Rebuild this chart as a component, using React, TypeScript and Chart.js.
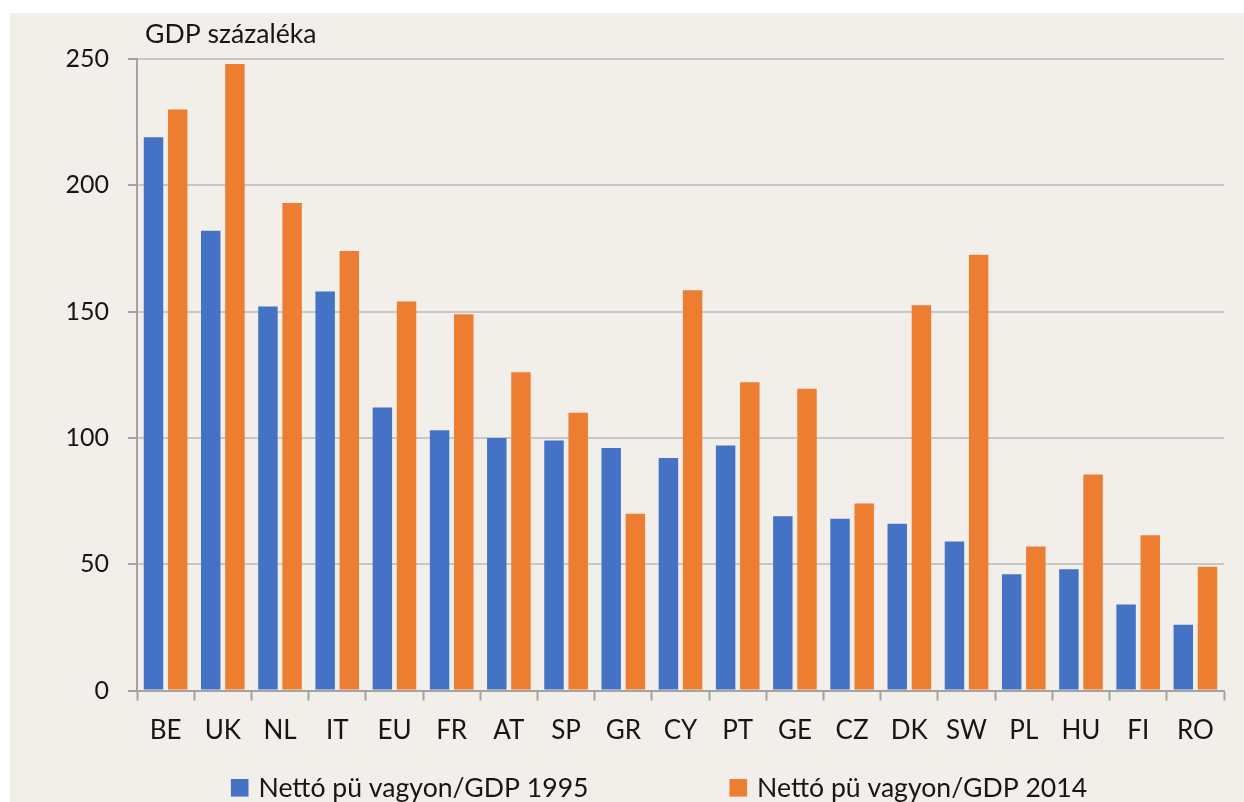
import { useEffect, useRef } from "react";
import { Chart, registerables } from "chart.js";

Chart.register(...registerables);

const categories = ["BE", "UK", "NL", "IT", "EU", "FR", "AT", "SP", "GR", "CY", "PT", "GE", "CZ", "DK", "SW", "PL", "HU", "FI", "RO"];
const values1995 = [219, 182, 152, 158, 112, 103, 100, 99, 96, 92, 97, 69, 68, 66, 59, 46, 48, 34, 26];
const values2014 = [230, 248, 193, 174, 154, 149, 126, 110, 70, 158.5, 122, 119.5, 74, 152.5, 172.5, 57, 85.5, 61.5, 49];
const seriesLabels = ["Nettó pü vagyon/GDP 1995", "Nettó pü vagyon/GDP 2014"];
const yTickValues = [0, 50, 100, 150, 200, 250];
const axisTitle = "GDP százaléka";

const BLUE = "#4472C4";
const ORANGE = "#ED7D31";
const BG = "#F2EFEA";
const TEXT = "#161616";
const FONT = "Lato";

const titlePlugin = {
  id: "axisTitleText",
  afterDraw(chart: any) {
    const { ctx, chartArea } = chart;
    ctx.save();
    ctx.font = `26.6px ${FONT}`;
    ctx.fillStyle = TEXT;
    ctx.textAlign = "left";
    ctx.textBaseline = "alphabetic";
    ctx.fillText(axisTitle, chartArea.left + 8, chartArea.top - 15.7);
    ctx.restore();
  },
};

const legendPlugin = {
  id: "customLegend",
  afterDraw(chart: any) {
    const { ctx } = chart;
    const datasets = chart.data.datasets;
    const box = 17.6;
    const textGap = 10;
    const itemGap = 141;
    const centerX = 649;
    const boxTop = chart.height - 23;
    const baseline = boxTop + 17.7;
    ctx.save();
    ctx.font = `26.6px ${FONT}`;
    const widths = datasets.map((d: any) => box + textGap + ctx.measureText(d.label).width);
    const total = widths.reduce((a: number, b: number) => a + b, 0) + itemGap * (datasets.length - 1);
    let x = centerX - total / 2;
    datasets.forEach((d: any, i: number) => {
      ctx.fillStyle = d.backgroundColor;
      ctx.fillRect(x, boxTop, box, box);
      ctx.fillStyle = TEXT;
      ctx.textAlign = "left";
      ctx.textBaseline = "alphabetic";
      ctx.fillText(d.label, x + box + textGap, baseline);
      x += widths[i] + itemGap;
    });
    ctx.restore();
  },
};

export default function App() {
  const canvasRef = useRef<HTMLCanvasElement | null>(null);

  useEffect(() => {
    document.body.style.overflow = "hidden";
    const canvas = canvasRef.current;
    if (!canvas) return;
    const chart = new Chart(canvas, {
      type: "bar",
      data: {
        labels: categories,
        datasets: [
          {
            label: seriesLabels[0],
            data: values1995,
            backgroundColor: BLUE,
            categoryPercentage: 0.845,
            barPercentage: 0.805,
          },
          {
            label: seriesLabels[1],
            data: values2014,
            backgroundColor: ORANGE,
            categoryPercentage: 0.845,
            barPercentage: 0.805,
          },
        ],
      },
      options: {
        responsive: false,
        animation: false,
        devicePixelRatio: 1,
        layout: { padding: { top: 46, right: 20, bottom: 51.5, left: 0 } },
        plugins: {
          legend: { display: false },
          title: { display: false },
          tooltip: { enabled: false },
        },
        scales: {
          x: {
            afterFit: (scale: any) => {
              scale.height = 60;
            },
            grid: {
              display: true,
              drawOnChartArea: false,
              drawTicks: true,
              tickLength: 10,
              tickColor: "#A3A3A3",
              tickWidth: 2,
              offset: true,
            },
            border: { display: true, color: "#A3A3A3", width: 2 },
            ticks: {
              color: TEXT,
              font: { family: FONT, size: 26 },
              padding: 15,
              maxRotation: 0,
              autoSkip: false,
            },
          },
          y: {
            min: 0,
            max: 250,
            afterFit: (scale: any) => {
              scale.width = 127;
            },
            afterBuildTicks: (scale: any) => {
              scale.ticks = yTickValues.map((v) => ({ value: v }));
            },
            grid: {
              color: "#C9C7C4",
              lineWidth: 2,
              drawTicks: true,
              tickLength: 9,
              tickColor: "#A3A3A3",
              tickWidth: 2,
            },
            border: { display: true, color: "#A3A3A3", width: 2 },
            ticks: {
              color: TEXT,
              font: { family: FONT, size: 25 },
              padding: 19,
            },
          },
        },
      },
      plugins: [titlePlugin, legendPlugin],
    });
    return () => chart.destroy();
  }, []);

  return (
    <div
      style={{
        position: "absolute",
        left: 10,
        top: 13,
        width: 1234,
        height: 789,
        background: BG,
      }}
    >
      <canvas ref={canvasRef} width={1234} height={789} style={{ display: "block" }} />
    </div>
  );
}
